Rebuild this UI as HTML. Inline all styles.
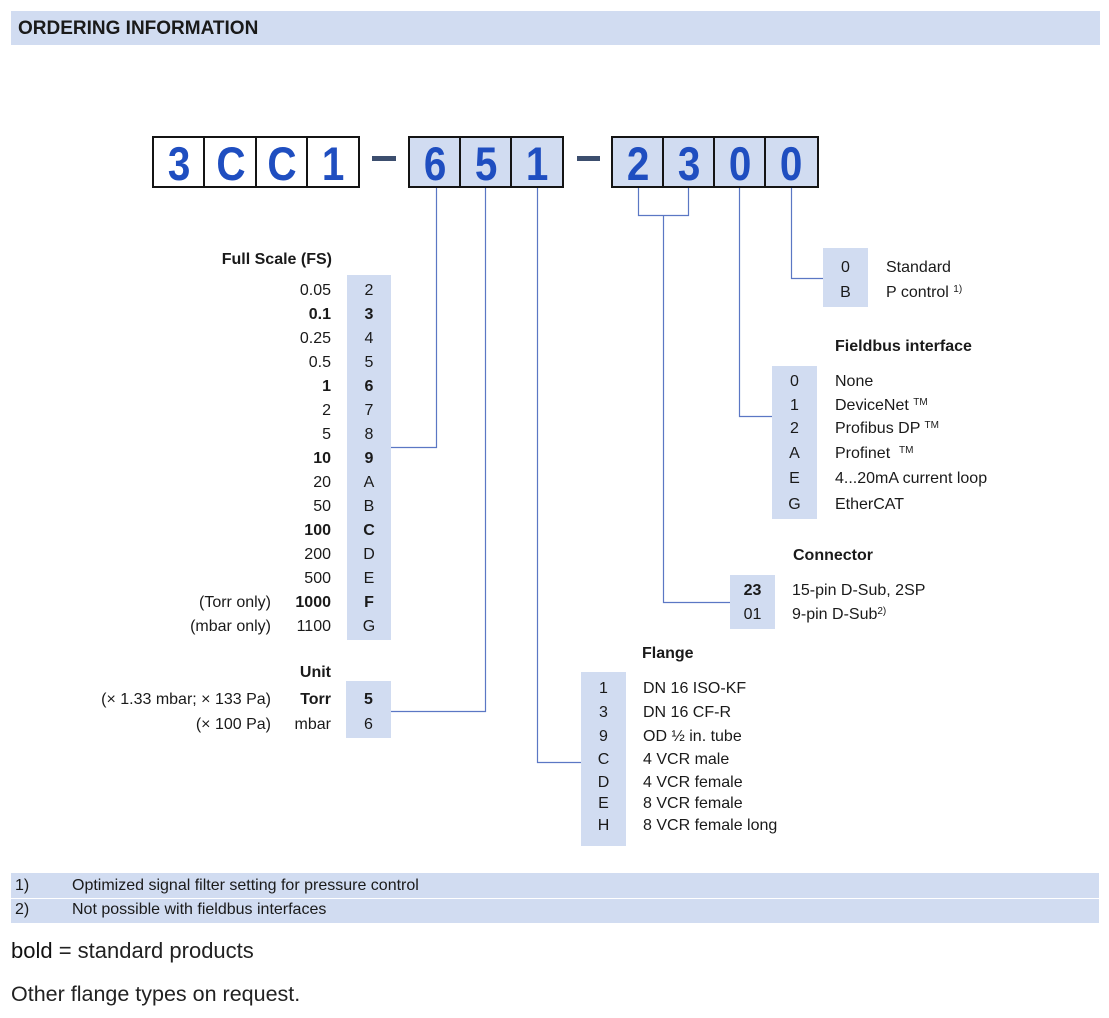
<!DOCTYPE html>
<html><head><meta charset="utf-8"><style>
*{margin:0;padding:0;box-sizing:border-box}
body{width:1109px;height:1018px;background:#fff;position:relative;overflow:hidden;font-family:"Liberation Sans",Arial,sans-serif;color:#1a1a1a}
.abs{position:absolute}
.band{position:absolute;background:#d1dcf1}
.t{position:absolute;font-size:16px;line-height:20px;height:20px;white-space:nowrap;margin-top:2px}
.b{font-weight:bold}
.c{text-align:center}
.box{position:absolute;top:136px;height:52px;border:2px solid #141414;display:flex;align-items:center;justify-content:center;font-weight:bold;font-size:47px;color:#1f4ec0;line-height:1}
.box span{display:inline-block;transform:scaleX(0.86);margin-top:2px}
.w{background:#fff}
.f{background:#d1dcf1}
.dash{position:absolute;height:5px;background:#3c4e6e;top:156px}
sup{font-size:10px;vertical-align:top;position:relative;top:-3px}
</style></head><body>

<div class="band" style="left:11px;top:11px;width:1089px;height:34px"></div>
<div class="abs b" style="left:18px;top:18px;font-size:19px;line-height:22px">ORDERING INFORMATION</div>

<!-- code boxes -->
<div class="box w" style="left:152px;width:54px"><span>3</span></div>
<div class="box w" style="left:203px;width:55px"><span>C</span></div>
<div class="box w" style="left:255px;width:54px"><span>C</span></div>
<div class="box w" style="left:306px;width:54px"><span>1</span></div>
<div class="dash" style="left:372px;width:24px"></div>
<div class="box f" style="left:408px;width:54px"><span>6</span></div>
<div class="box f" style="left:459px;width:54px"><span>5</span></div>
<div class="box f" style="left:510px;width:54px"><span>1</span></div>
<div class="dash" style="left:577px;width:23px"></div>
<div class="box f" style="left:611px;width:54px"><span>2</span></div>
<div class="box f" style="left:662px;width:54px"><span>3</span></div>
<div class="box f" style="left:713px;width:54px"><span>0</span></div>
<div class="box f" style="left:764px;width:55px"><span>0</span></div>

<!-- column backgrounds -->
<div class="band" style="left:347px;top:275px;width:44px;height:365px"></div>
<div class="band" style="left:346px;top:681px;width:45px;height:57px"></div>
<div class="band" style="left:823px;top:248px;width:45px;height:59px"></div>
<div class="band" style="left:772px;top:366px;width:45px;height:153px"></div>
<div class="band" style="left:730px;top:575px;width:45px;height:54px"></div>
<div class="band" style="left:581px;top:672px;width:45px;height:174px"></div>

<!-- connectors -->
<svg class="abs" style="left:0;top:0" width="1109" height="1018">
<g fill="none" stroke="#5b77c4" stroke-width="1.2">
<path d="M436.5 188 V447.5 H391"/>
<path d="M485.5 188 V711.5 H391"/>
<path d="M537.5 188 V762.5 H581"/>
<path d="M638.5 188 V215.5 H688.5 V188"/>
<path d="M663.5 215 V602.5 H730"/>
<path d="M739.5 188 V416.5 H772"/>
<path d="M791.5 188 V278.5 H823"/>
</g>
</svg>

<!-- Full scale -->
<div class="t b" style="right:777px;top:248px">Full Scale (FS)</div>
<div class="t" style="right:778px;top:279px">0.05</div><div class="t c" style="left:347px;width:44px;top:279px">2</div>
<div class="t b" style="right:778px;top:303px">0.1</div><div class="t c b" style="left:347px;width:44px;top:303px">3</div>
<div class="t" style="right:778px;top:327px">0.25</div><div class="t c" style="left:347px;width:44px;top:327px">4</div>
<div class="t" style="right:778px;top:351px">0.5</div><div class="t c" style="left:347px;width:44px;top:351px">5</div>
<div class="t b" style="right:778px;top:375px">1</div><div class="t c b" style="left:347px;width:44px;top:375px">6</div>
<div class="t" style="right:778px;top:399px">2</div><div class="t c" style="left:347px;width:44px;top:399px">7</div>
<div class="t" style="right:778px;top:423px">5</div><div class="t c" style="left:347px;width:44px;top:423px">8</div>
<div class="t b" style="right:778px;top:447px">10</div><div class="t c b" style="left:347px;width:44px;top:447px">9</div>
<div class="t" style="right:778px;top:471px">20</div><div class="t c" style="left:347px;width:44px;top:471px">A</div>
<div class="t" style="right:778px;top:495px">50</div><div class="t c" style="left:347px;width:44px;top:495px">B</div>
<div class="t b" style="right:778px;top:519px">100</div><div class="t c b" style="left:347px;width:44px;top:519px">C</div>
<div class="t" style="right:778px;top:543px">200</div><div class="t c" style="left:347px;width:44px;top:543px">D</div>
<div class="t" style="right:778px;top:567px">500</div><div class="t c" style="left:347px;width:44px;top:567px">E</div>
<div class="t" style="right:838px;top:591px">(Torr only)</div><div class="t b" style="right:778px;top:591px">1000</div><div class="t c b" style="left:347px;width:44px;top:591px">F</div>
<div class="t" style="right:838px;top:615px">(mbar only)</div><div class="t" style="right:778px;top:615px">1100</div><div class="t c" style="left:347px;width:44px;top:615px">G</div>

<!-- Unit -->
<div class="t b" style="right:778px;top:661px">Unit</div>
<div class="t" style="right:838px;top:688px">(× 1.33 mbar; × 133 Pa)</div><div class="t b" style="right:778px;top:688px">Torr</div><div class="t c b" style="left:346px;width:45px;top:688px">5</div>
<div class="t" style="right:838px;top:713px">(× 100 Pa)</div><div class="t" style="right:778px;top:713px">mbar</div><div class="t c" style="left:346px;width:45px;top:713px">6</div>

<!-- Standard / P control -->
<div class="t c" style="left:823px;width:45px;top:256px">0</div><div class="t" style="left:886px;top:256px">Standard</div>
<div class="t c" style="left:823px;width:45px;top:281px">B</div><div class="t" style="left:886px;top:281px">P control <sup>1)</sup></div>

<!-- Fieldbus -->
<div class="t b" style="left:835px;top:335px">Fieldbus interface</div>
<div class="t c" style="left:772px;width:45px;top:370px">0</div><div class="t" style="left:835px;top:370px">None</div>
<div class="t c" style="left:772px;width:45px;top:394px">1</div><div class="t" style="left:835px;top:394px">DeviceNet <sup>TM</sup></div>
<div class="t c" style="left:772px;width:45px;top:417px">2</div><div class="t" style="left:835px;top:417px">Profibus DP <sup>TM</sup></div>
<div class="t c" style="left:772px;width:45px;top:442px">A</div><div class="t" style="left:835px;top:442px">Profinet &nbsp;<sup>TM</sup></div>
<div class="t c" style="left:772px;width:45px;top:467px">E</div><div class="t" style="left:835px;top:467px">4...20mA current loop</div>
<div class="t c" style="left:772px;width:45px;top:493px">G</div><div class="t" style="left:835px;top:493px">EtherCAT</div>

<!-- Connector -->
<div class="t b" style="left:793px;top:544px">Connector</div>
<div class="t c b" style="left:730px;width:45px;top:579px">23</div><div class="t" style="left:792px;top:579px">15-pin D-Sub, 2SP</div>
<div class="t c" style="left:730px;width:45px;top:603px">01</div><div class="t" style="left:792px;top:603px">9-pin D-Sub<sup>2)</sup></div>

<!-- Flange -->
<div class="t b" style="left:642px;top:642px">Flange</div>
<div class="t c" style="left:581px;width:45px;top:677px">1</div><div class="t" style="left:643px;top:677px">DN 16 ISO-KF</div>
<div class="t c" style="left:581px;width:45px;top:701px">3</div><div class="t" style="left:643px;top:701px">DN 16 CF-R</div>
<div class="t c" style="left:581px;width:45px;top:725px">9</div><div class="t" style="left:643px;top:725px">OD ½ in. tube</div>
<div class="t c" style="left:581px;width:45px;top:748px">C</div><div class="t" style="left:643px;top:748px">4 VCR male</div>
<div class="t c" style="left:581px;width:45px;top:771px">D</div><div class="t" style="left:643px;top:771px">4 VCR female</div>
<div class="t c" style="left:581px;width:45px;top:792px">E</div><div class="t" style="left:643px;top:792px">8 VCR female</div>
<div class="t c" style="left:581px;width:45px;top:814px">H</div><div class="t" style="left:643px;top:814px">8 VCR female long</div>

<!-- Footnotes -->
<div class="band" style="left:11px;top:873px;width:1088px;height:25px"></div>
<div class="band" style="left:11px;top:899px;width:1088px;height:24px"></div>
<div class="t" style="left:15px;top:874px">1)</div><div class="t" style="left:72px;top:874px">Optimized signal filter setting for pressure control</div>
<div class="t" style="left:15px;top:898px">2)</div><div class="t" style="left:72px;top:898px">Not possible with fieldbus interfaces</div>

<div class="abs" style="left:11px;top:939px;font-size:22px;line-height:24px;color:#222;white-space:nowrap"><span style="color:#111">bold</span> = standard products</div>
<div class="abs" style="left:11px;top:982px;font-size:21.5px;line-height:24px;color:#222;white-space:nowrap">Other flange types on request.</div>

</body></html>
